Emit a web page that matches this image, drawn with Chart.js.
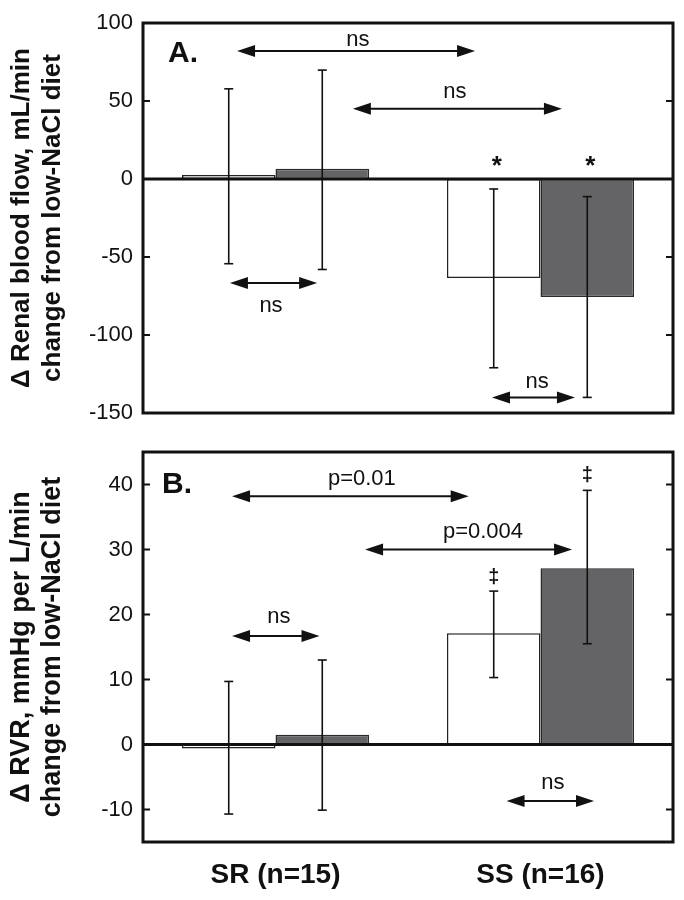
<!DOCTYPE html>
<html>
<head>
<meta charset="utf-8">
<script src="https://cdn.jsdelivr.net/npm/chart.js@4.4.1/dist/chart.umd.min.js"></script>
<style>
  html, body { margin: 0; padding: 0; background: #fff; }
  #wrap { position: relative; width: 684px; height: 900px; }
  #chartA { position: absolute; left: 0; top: 0; }
  #chartB { position: absolute; left: 0; top: 430px; }
</style>
</head>
<body>
<div id="wrap">
  <canvas id="chartA" width="684" height="430"></canvas>
  <canvas id="chartB" width="684" height="470"></canvas>
</div>
<script>
const groups = ['SR (n=15)', 'SS (n=16)'];

// Panel A: change in renal blood flow, mL/min
const rbfOpen = [2.5, -63.5];
const rbfFilled = [6.5, -75.7];
const rbfOpenHi = [57.8, -6.4];
const rbfOpenLo = [-54.3, -121];
const rbfFilledHi = [69.8, -11.3];
const rbfFilledLo = [-58, -140];
const rbfTicks = [-150, -100, -50, 0, 50, 100];

// Panel B: change in renal vascular resistance, mmHg per L/min
const rvrOpen = [-0.6, 17.1];
const rvrFilled = [1.5, 27.1];
const rvrOpenHi = [9.7, 23.6];
const rvrOpenLo = [-10.7, 10.3];
const rvrFilledHi = [13.0, 39.1];
const rvrFilledLo = [-10.1, 15.5];
const rvrTicks = [-10, 0, 10, 20, 30, 40];

const FONT = '"Liberation Sans", Arial, Helvetica, sans-serif';
const INK = '#111';
const GREY = '#646466';

// comparison arrows (x in category units, y in data units)
const rbfArrows = [
  { label: 'ns', from: -0.145, to: 0.753, y: 82, lx: 0.311, ly: 90.6 },
  { label: 'ns', from: 0.292, to: 1.081, y: 45, lx: 0.677, ly: 57 },
  { label: 'ns', from: -0.172, to: 0.157, y: -66.7, lx: -0.017, ly: -80 },
  { label: 'ns', from: 0.817, to: 1.130, y: -140, lx: 0.987, ly: -129 }
];
const rvrArrows = [
  { label: 'p=0.01', from: -0.164, to: 0.729, y: 38.2, lx: 0.326, ly: 41.2 },
  { label: 'p=0.004', from: 0.338, to: 1.119, y: 30, lx: 0.783, ly: 33 },
  { label: 'ns', from: -0.164, to: 0.166, y: 16.7, lx: 0.013, ly: 19.9 },
  { label: 'ns', from: 0.872, to: 1.202, y: -8.7, lx: 1.047, ly: -5.6 }
];

function line(ctx, x0, y0, x1, y1) {
  ctx.beginPath();
  ctx.moveTo(x0, y0);
  ctx.lineTo(x1, y1);
  ctx.stroke();
}

function head(ctx, tipX, y, dir) {
  ctx.beginPath();
  ctx.moveTo(tipX, y);
  ctx.lineTo(tipX - dir * 18, y - 6);
  ctx.lineTo(tipX - dir * 18, y + 6);
  ctx.closePath();
  ctx.fill();
}

function overlay(cfg) {
  return {
    id: 'overlay' + cfg.letter,
    afterDatasetsDraw(chart) {
      const { ctx, chartArea: area } = chart;
      const x = chart.scales.x, y = chart.scales.y;
      ctx.save();
      ctx.strokeStyle = INK;
      ctx.fillStyle = INK;

      // zero line
      ctx.lineWidth = 3;
      const y0 = y.getPixelForValue(0);
      line(ctx, area.left, y0, area.right, y0);

      // error bars
      ctx.lineWidth = 1.6;
      cfg.errors.forEach((e, di) => {
        chart.getDatasetMeta(di).data.forEach((bar, i) => {
          const top = y.getPixelForValue(e.hi[i]);
          const bot = y.getPixelForValue(e.lo[i]);
          line(ctx, bar.x, top, bar.x, bot);
          line(ctx, bar.x - 4.5, top, bar.x + 4.5, top);
          line(ctx, bar.x - 4.5, bot, bar.x + 4.5, bot);
        });
      });

      // comparison arrows
      ctx.lineWidth = 2;
      ctx.font = '22px ' + FONT;
      ctx.textAlign = 'center';
      ctx.textBaseline = 'middle';
      cfg.arrows.forEach(a => {
        const xa = x.getPixelForValue(a.from);
        const xb = x.getPixelForValue(a.to);
        const ya = y.getPixelForValue(a.y);
        line(ctx, xa + 10, ya, xb - 10, ya);
        head(ctx, xa, ya, -1);
        head(ctx, xb, ya, 1);
        ctx.fillText(a.label, x.getPixelForValue(a.lx), y.getPixelForValue(a.ly) + 2);
      });

      // significance marks above SS bars
      ctx.font = cfg.markFont + FONT;
      cfg.marks.forEach((m, di) => {
        const bar = chart.getDatasetMeta(di).data[1];
        ctx.fillText(cfg.markText, bar.x + cfg.markDx, y.getPixelForValue(m) + cfg.markDy);
      });

      // panel letter
      ctx.font = 'bold 30px ' + FONT;
      ctx.textAlign = 'left';
      ctx.fillText(cfg.letter + '.', area.left + cfg.letterDx, area.top + cfg.letterDy);

      // inward ticks on both sides
      ctx.lineWidth = 2;
      cfg.ticks.forEach(v => {
        const yy = y.getPixelForValue(v);
        line(ctx, area.left, yy, area.left + 7, yy);
        line(ctx, area.right - 7, yy, area.right, yy);
      });

      // frame
      ctx.lineWidth = 3;
      ctx.strokeRect(area.left, area.top, area.right - area.left, area.bottom - area.top);
      ctx.restore();
    }
  };
}

function makeChart(id, cfg) {
  return new Chart(document.getElementById(id), {
    type: 'bar',
    data: {
      labels: groups,
      datasets: [
        { data: cfg.open, backgroundColor: '#fff', borderColor: '#222', borderWidth: 1.5, borderSkipped: false },
        { data: cfg.filled, backgroundColor: GREY, borderColor: '#2a2a2a', borderWidth: 1.5, borderSkipped: false }
      ]
    },
    options: {
      responsive: false,
      animation: false,
      events: [],
      layout: { padding: cfg.padding },
      datasets: { bar: { categoryPercentage: 0.706, barPercentage: 1 } },
      plugins: { legend: { display: false }, tooltip: { enabled: false } },
      scales: {
        x: {
          display: cfg.showX,
          grid: { display: false, drawTicks: false },
          border: { display: false },
          ticks: { color: INK, font: { family: FONT, size: 28, weight: 'bold' }, padding: 16 },
          afterFit: s => { s.height = cfg.showX ? 58 : 0; s.paddingLeft = 0; s.paddingRight = 0; }
        },
        y: {
          min: cfg.min,
          max: cfg.max,
          grid: { display: false, drawTicks: false },
          border: { display: false },
          afterBuildTicks: s => { s.ticks = cfg.ticks.map(v => ({ value: v })); },
          afterFit: s => { s.width = 143; s.paddingTop = 0; s.paddingBottom = 0; },
          ticks: { color: INK, font: { family: FONT, size: 22 }, padding: 10 },
          title: {
            display: true,
            text: cfg.title,
            color: INK,
            font: { family: FONT, size: cfg.titleSize, weight: 'bold', lineHeight: cfg.titleLine },
            padding: { top: 6, bottom: 0 }
          }
        }
      }
    },
    plugins: [overlay(cfg)]
  });
}

makeChart('chartA', {
  letter: 'A', letterDx: 25, letterDy: 31,
  open: rbfOpen, filled: rbfFilled,
  errors: [{ hi: rbfOpenHi, lo: rbfOpenLo }, { hi: rbfFilledHi, lo: rbfFilledLo }],
  arrows: rbfArrows,
  marks: [11.4, 11.4], markText: '*', markFont: 'bold 26px ', markDx: 3, markDy: 6,
  ticks: rbfTicks, min: -150, max: 100,
  title: ['\u0394 Renal blood flow, mL/min', 'change from low-NaCl diet'],
  titleSize: 26, titleLine: 1.2,
  showX: false,
  padding: { top: 23, right: 11, bottom: 17, left: 0 }
});

makeChart('chartB', {
  letter: 'B', letterDx: 19, letterDy: 33,
  open: rvrOpen, filled: rvrFilled,
  errors: [{ hi: rvrOpenHi, lo: rvrOpenLo }, { hi: rvrFilledHi, lo: rvrFilledLo }],
  arrows: rvrArrows,
  marks: [26.1, 41.8], markText: '\u2021', markFont: 'bold 20px ', markDx: 0, markDy: 3,
  ticks: rvrTicks, min: -15, max: 45,
  title: ['\u0394 RVR, mmHg per L/min', 'change from low-NaCl diet'],
  titleSize: 27, titleLine: 1.16,
  showX: true,
  padding: { top: 22, right: 11, bottom: 0, left: 0 }
});
</script>
</body>
</html>
